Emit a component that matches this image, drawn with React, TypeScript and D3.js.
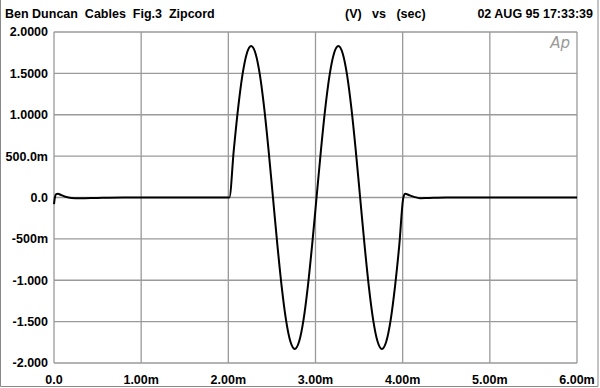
import React, { useEffect, useRef } from 'react';
import * as d3 from 'd3';

// time in ms, signal in volts
const timeMs = [
  0.0, 0.01, 0.025, 0.045, 0.08, 0.13, 0.2, 0.3, 0.5, 0.8, 1.4, 2.0,
  2.012, 2.062, 2.112, 2.162, 2.212, 2.262, 2.312, 2.362, 2.412, 2.462,
  2.512, 2.562, 2.612, 2.662, 2.712, 2.762, 2.812, 2.862, 2.912, 2.962,
  3.012, 3.062, 3.112, 3.162, 3.212, 3.262, 3.312, 3.362, 3.412, 3.462,
  3.512, 3.562, 3.612, 3.662, 3.712, 3.762, 3.812, 3.862, 3.912, 3.962,
  4.008, 4.03, 4.07, 4.13, 4.2, 4.3, 4.5, 5.0, 6.0,
];
const volts = [
  -0.08, 0.0, 0.04, 0.045, 0.03, 0.01, -0.005, -0.01, -0.005, 0.0, 0.0, 0.0,
  0.0, 0.566, 1.076, 1.481, 1.74, 1.83, 1.74, 1.481, 1.076, 0.566,
  0.0, -0.566, -1.076, -1.481, -1.74, -1.83, -1.74, -1.481, -1.076, -0.566,
  0.0, 0.566, 1.076, 1.481, 1.74, 1.83, 1.74, 1.481, 1.076, 0.566,
  0.0, -0.566, -1.076, -1.481, -1.74, -1.83, -1.74, -1.481, -1.076, -0.566,
  0.0, 0.045, 0.03, 0.008, -0.008, -0.005, 0.0, 0.0, 0.0,
];

const xTicks = [0, 1, 2, 3, 4, 5, 6];
const xTickLabels = ['0.0', '1.00m', '2.00m', '3.00m', '4.00m', '5.00m', '6.00m'];
const yTicks = [2, 1.5, 1, 0.5, 0, -0.5, -1, -1.5, -2];
const yTickLabels = ['2.0000', '1.5000', '1.0000', '500.0m', '0.0', '-500m', '-1.000', '-1.500', '-2.000'];

const titleLeft = 'Ben Duncan  Cables  Fig.3  Zipcord';
const titleMid = '(V)   vs   (sec)';
const titleRight = '02 AUG 95 17:33:39';

const App = () => {
  const svgRef = useRef<SVGSVGElement>(null);

  useEffect(() => {
    const width = 600;
    const height = 388;
    const svg = d3.select(svgRef.current);
    svg.selectAll('*').remove();
    svg.attr('width', width).attr('height', height);

    const margin = { top: 32, right: 23, bottom: 25, left: 54 };
    const x = d3.scaleLinear().domain([0, 6]).range([margin.left, width - margin.right]);
    const y = d3.scaleLinear().domain([-2, 2]).range([height - margin.bottom, margin.top]);

    const font = "'Liberation Sans', Arial, Helvetica, sans-serif";
    const grid = '#9a9a9a';

    svg.append('rect').attr('width', width).attr('height', height).attr('fill', '#fff');

    // outer frame
    svg.append('path')
      .attr('d', `M0.5,0 V${height - 1.5} H${width - 2} V0`)
      .attr('fill', 'none')
      .attr('stroke', '#888')
      .attr('stroke-width', 1);

    // grid
    const g = svg.append('g');
    g.selectAll('line.v')
      .data(xTicks)
      .join('line')
      .attr('x1', d => x(d)).attr('x2', d => x(d))
      .attr('y1', y(2)).attr('y2', y(-2))
      .attr('stroke', grid).attr('stroke-width', 1.3);
    g.selectAll('line.h')
      .data(yTicks)
      .join('line')
      .attr('x1', x(0)).attr('x2', x(6))
      .attr('y1', d => y(d)).attr('y2', d => y(d))
      .attr('stroke', grid).attr('stroke-width', 1.3);

    // axis labels
    svg.append('g')
      .selectAll('text')
      .data(yTicks)
      .join('text')
      .attr('x', 48)
      .attr('y', d => y(d))
      .attr('dy', '0.35em')
      .attr('text-anchor', 'end')
      .attr('font-family', font)
      .attr('font-weight', 'bold')
      .attr('font-size', 12.5)
      .text((d, i) => yTickLabels[i]);

    svg.append('g')
      .selectAll('text')
      .data(xTicks)
      .join('text')
      .attr('x', d => x(d))
      .attr('y', 384)
      .attr('text-anchor', 'middle')
      .attr('font-family', font)
      .attr('font-weight', 'bold')
      .attr('font-size', 12.5)
      .text((d, i) => xTickLabels[i]);

    // titles (double spaces kept)
    const title = svg.append('g')
      .attr('font-family', font)
      .attr('font-weight', 'bold')
      .attr('font-size', 12.5);
    title.append('text').attr('x', 5).attr('y', 18).attr('xml:space', 'preserve').text(titleLeft);
    title.append('text').attr('x', 345).attr('y', 18).attr('xml:space', 'preserve').text(titleMid);
    title.append('text').attr('x', 593).attr('y', 18).attr('text-anchor', 'end').text(titleRight);

    // Ap logo
    svg.append('text')
      .attr('x', 570).attr('y', 48)
      .attr('text-anchor', 'end')
      .attr('font-family', "'DejaVu Sans', sans-serif")
      .attr('font-style', 'italic')
      .attr('font-weight', 200)
      .attr('font-size', 15)
      .attr('fill', '#999')
      .text('Ap');

    // trace
    const data = timeMs.map((t, i) => [t, volts[i]] as [number, number]);
    const line = d3.line<[number, number]>()
      .x(d => x(d[0]))
      .y(d => y(d[1]))
      .curve(d3.curveMonotoneX);
    svg.append('path')
      .datum(data)
      .attr('d', line)
      .attr('fill', 'none')
      .attr('stroke', '#000')
      .attr('stroke-width', 2)
      .attr('stroke-linejoin', 'round');
  }, []);

  return <svg ref={svgRef} style={{ display: 'block', position: 'absolute', left: 0, top: 0 }}></svg>;
};

export default App;
